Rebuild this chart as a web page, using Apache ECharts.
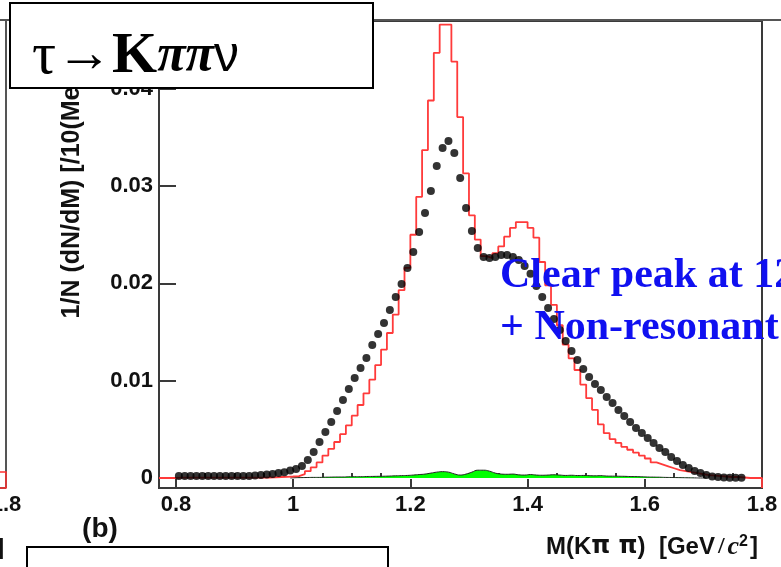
<!DOCTYPE html>
<html>
<head>
<meta charset="utf-8">
<script src="https://cdn.jsdelivr.net/npm/echarts@6.0.0/dist/echarts.min.js"></script>
<style>
  html, body { margin: 0; padding: 0; background: #fff; }
  #chart { width: 781px; height: 567px; }
</style>
</head>
<body>
<div id="chart"></div>
<script>
// M(K pi pi) in bins of 10 MeV, 0.8 .. 1.8 GeV
const massLow = 0.8;
const binWidth = 0.01;
const xMin = 0.7711;
const xMax = 1.8;
const yMin = -0.00103;
const yMax = 0.04697;

const xMajorTicks = [0.8, 1.0, 1.2, 1.4, 1.6, 1.8];
const xMinorTicks = [0.85, 0.9, 0.95, 1.05, 1.1, 1.15, 1.25, 1.3, 1.35, 1.45, 1.5, 1.55, 1.65, 1.7, 1.75];
const yTicks = [0, 0.01, 0.02, 0.03, 0.04];

// data points (black dots), bins 0..96
const dataPoints = [
    0.0002, 0.0002, 0.0002, 0.0002, 0.0002, 0.0002, 0.0002, 0.0002, 0.0002, 0.0002,
    0.0002, 0.0002, 0.0002, 0.00025, 0.0003, 0.00035, 0.0004, 0.0005, 0.0006, 0.00077,
    0.00092, 0.00123, 0.00185, 0.00267, 0.0037, 0.00473, 0.00576, 0.00689, 0.00802, 0.00915,
    0.01028, 0.0113, 0.01233, 0.01367, 0.0148, 0.01593, 0.01727, 0.0186, 0.01994, 0.02158,
    0.02323, 0.02528, 0.02724, 0.0295, 0.03207, 0.03392, 0.03464, 0.0334, 0.03083, 0.02775,
    0.02539, 0.02364, 0.02271, 0.02261, 0.02271, 0.02292, 0.02292, 0.02271, 0.0224, 0.0218,
    0.0210, 0.01973, 0.0186, 0.01747, 0.01634, 0.01521, 0.01408, 0.01305, 0.01213, 0.0112,
    0.01038, 0.00966, 0.00904, 0.00832, 0.00771, 0.00699, 0.00637, 0.00576, 0.00514, 0.00462,
    0.00411, 0.0036, 0.00308, 0.00267, 0.00216, 0.00175, 0.00134, 0.00103, 0.00072, 0.00051,
    0.00031, 0.00015, 0.0001, 0.00005, 0.00003, 0.00003, 0.00003
];

// model histogram (red), bins 0..99
const modelHist = [
    0.00003, 0.00003, 0.00003, 0.00003, 0.00003, 0.00003, 0.00003, 0.00003, 0.00003, 0.00003,
    0.00003, 0.00003, 0.00003, 0.00003, 0.00003, 0.00005, 0.00007, 0.0001, 0.00012, 0.00015,
    0.0002, 0.0004, 0.0007, 0.0011, 0.0016, 0.0023, 0.003, 0.0037, 0.0045, 0.0054,
    0.0064, 0.0075, 0.0087, 0.0101, 0.0116, 0.0132, 0.0149, 0.0168, 0.0193, 0.0216,
    0.025, 0.0289, 0.0337, 0.0388, 0.0437, 0.0466, 0.0466, 0.0428, 0.0371, 0.0313,
    0.027, 0.0245, 0.0228, 0.0226, 0.0231, 0.0238, 0.0248, 0.0257, 0.0263, 0.0263,
    0.0257, 0.0247, 0.0222, 0.0198, 0.0178, 0.0157, 0.0137, 0.0123, 0.0111, 0.0096,
    0.0082, 0.007, 0.0055, 0.0046, 0.004, 0.0036, 0.0032, 0.0029, 0.0026, 0.0023,
    0.002, 0.0016, 0.0014, 0.0012, 0.001, 0.0008, 0.0007, 0.0006, 0.0005, 0.0004,
    0.0003, 0.00025, 0.0002, 0.00015, 0.0001, 0.0001, 0.00005, 0, 0, 0
];

// background (green), bins 0..99
const bkgHist = [
    0, 0, 0, 0, 0, 0, 0, 0, 0, 0,
    0, 0, 0, 0, 0, 0, 0, 0, 0, 0,
    0.00003, 0.00004, 0.00005, 0.00006, 0.00006, 0.00008, 0.00009, 0.0001, 0.0001, 0.00012,
    0.00013, 0.00013, 0.00015, 0.00016, 0.00017, 0.00018, 0.0002, 0.00022, 0.00024, 0.00026,
    0.0003, 0.00035, 0.0004, 0.0005, 0.0006, 0.00065, 0.0006, 0.00042, 0.0003, 0.0004,
    0.0006, 0.0008, 0.0008, 0.0007, 0.0005, 0.0004, 0.00038, 0.0004, 0.00032, 0.0003,
    0.00035, 0.0003, 0.00028, 0.0003, 0.00033, 0.0003, 0.00026, 0.00028, 0.00025, 0.00026,
    0.00024, 0.00022, 0.00024, 0.0002, 0.00019, 0.00018, 0.00017, 0.00015, 0.00014, 0.00012,
    0.0001, 0.00009, 0.00008, 0.00006, 0.00005, 0.00004, 0.00003, 0.00002, 0.00001, 0,
    0, 0, 0, 0, 0, 0, 0, 0, 0, 0
];

const binCenter = k => +(massLow + binWidth * (k + 0.5)).toFixed(4);
const binEdge = k => +(massLow + binWidth * k).toFixed(4);

const dotData = dataPoints.map((v, k) => [binCenter(k), v]);

const modelStep = [[xMin, 0]];
modelHist.forEach((v, k) => modelStep.push([binEdge(k), v]));
modelStep.push([xMax, modelHist[modelHist.length - 1]]);
modelStep.push([xMax, yMin]);

const bkgData = [];
bkgHist.forEach((v, k) => {
    if (k >= 19 && k <= 90) bkgData.push([binCenter(k), v]);
});

const SANS = 'Liberation Sans, Arial, sans-serif';
const SERIF = 'Liberation Serif, Times New Roman, serif';
const FRAME = '#3a3a3a';

const chart = echarts.init(document.getElementById('chart'));

const option = {
    animation: false,
    backgroundColor: '#fff',
    grid: {
        left: 159, right: 19, top: 21, bottom: 79,
        show: true, borderColor: FRAME, borderWidth: 2, backgroundColor: 'transparent'
    },
    xAxis: [{
        type: 'value', min: xMin, max: xMax,
        axisLine: { show: true, onZero: false, lineStyle: { color: FRAME, width: 2 } },
        splitLine: { show: false },
        axisTick: { show: true, inside: true, length: 9, customValues: xMajorTicks, lineStyle: { color: FRAME, width: 2 } },
        axisLabel: {
            customValues: xMajorTicks, margin: 6,
            color: '#111', fontFamily: SANS, fontWeight: 'bold', fontSize: 22,
            formatter: v => (v === 1 ? '1' : String(+v.toFixed(1)))
        }
    }, {
        type: 'value', min: xMin, max: xMax, position: 'bottom',
        axisLine: { show: false },
        splitLine: { show: false },
        axisTick: { show: true, inside: true, length: 5, customValues: xMinorTicks, lineStyle: { color: FRAME, width: 2 } },
        axisLabel: { show: false }
    }],
    yAxis: {
        type: 'value', min: yMin, max: yMax,
        axisLine: { show: true, onZero: false, lineStyle: { color: FRAME, width: 2 } },
        splitLine: { show: false },
        axisTick: { show: true, inside: true, length: 17, customValues: yTicks, lineStyle: { color: FRAME, width: 2 } },
        axisLabel: {
            customValues: yTicks, margin: 6,
            color: '#111', fontFamily: SANS, fontWeight: 'bold', fontSize: 22,
            formatter: v => (v === 0 ? '0' : v.toFixed(2))
        }
    },
    series: [{
        name: 'background',
        type: 'line',
        data: bkgData,
        smooth: true,
        symbol: 'none',
        lineStyle: { color: '#222', width: 1 },
        areaStyle: { color: '#00ff00', opacity: 1 },
        z: 2
    }, {
        name: 'model',
        type: 'line',
        data: modelStep,
        step: 'end',
        symbol: 'none',
        lineStyle: { color: '#ff3a3a', width: 1.8 },
        z: 3
    }, {
        name: 'data',
        type: 'scatter',
        data: dotData,
        symbol: 'circle',
        symbolSize: 8,
        itemStyle: { color: '#000' },
        z: 4
    }],
    graphic: [
        // top frame line across the slide
        { type: 'line', shape: { x1: 0, y1: 20, x2: 781, y2: 20 }, style: { stroke: '#555', lineWidth: 2 }, z: 1 },
        // neighbouring panel remnants on the left
        { type: 'line', shape: { x1: 6, y1: 20, x2: 6, y2: 488 }, style: { stroke: '#555', lineWidth: 2 }, z: 1 },
        { type: 'line', shape: { x1: 0, y1: 488, x2: 6, y2: 488 }, style: { stroke: '#555', lineWidth: 2 }, z: 1 },
        { type: 'rect', shape: { x: -2, y: 472, width: 8, height: 16 }, style: { fill: 'none', stroke: '#ff3030', lineWidth: 1.5 }, z: 1 },
        { type: 'text', x: 6, y: 505, style: { text: '1.8', font: 'bold 22px ' + SANS, fill: '#111', textAlign: 'center', textVerticalAlign: 'middle' }, z: 1 },
        { type: 'text', x: 4, y: 548, style: { text: ']', font: 'bold 22px ' + SANS, fill: '#111', textAlign: 'right', textVerticalAlign: 'middle' }, z: 1 },
        // y axis title
        {
            type: 'text', x: 72, y: 24, rotation: Math.PI / 2,
            style: { text: '1/N (dN/dM) [/10(MeV/c²)]', font: 'bold 25px ' + SANS, fill: '#111', textAlign: 'right', textVerticalAlign: 'middle' },
            z: 5
        },
        // x axis title
        {
            type: 'text', x: 758, y: 547,
            style: {
                text: '{a|M(K}{p|π π}{a|)  [GeV}{b|/}{c|c}{s|2}{a|]}',
                textAlign: 'right', textVerticalAlign: 'middle',
                rich: {
                    a: { font: 'bold 24px ' + SANS, fill: '#111' },
                    b: { font: 'bold 24px ' + SERIF, fill: '#111', padding: [0, 3, 0, 3] },
                    p: { font: 'bold 24px DejaVu Sans, sans-serif', fill: '#111' },
                    c: { font: 'italic bold 26px ' + SERIF, fill: '#111' },
                    s: { font: 'bold 16px ' + SANS, fill: '#111', verticalAlign: 'top', padding: [0, 2, 0, 0] }
                }
            },
            z: 5
        },
        // panel label
        { type: 'text', x: 100, y: 529, style: { text: '(b)', font: 'bold 28px ' + SANS, fill: '#111', textAlign: 'center', textVerticalAlign: 'middle' }, z: 5 },
        // blank box at bottom
        { type: 'rect', shape: { x: 27, y: 547, width: 361, height: 40 }, style: { fill: '#fff', stroke: '#000', lineWidth: 2 }, z: 20 },
        // annotation
        {
            type: 'text', x: 500, y: 276,
            style: { text: 'Clear peak at 1270 MeV', font: 'bold 42px ' + SERIF, fill: '#1010f0', textAlign: 'left', textVerticalAlign: 'middle' },
            z: 50
        },
        {
            type: 'text', x: 500, y: 328,
            style: { text: '+ Non-resonant Kππ', font: 'bold 42px ' + SERIF, fill: '#1010f0', textAlign: 'left', textVerticalAlign: 'middle' },
            z: 50
        },
        // decay title box
        { type: 'rect', shape: { x: 10, y: 3, width: 363, height: 85 }, style: { fill: '#fff', stroke: '#000', lineWidth: 2 }, z: 100 },
        {
            type: 'text', x: 32, y: 57,
            style: {
                text: '{t|τ}{a|→}{k|K}{p|ππ}{n|ν}',
                textAlign: 'left', textVerticalAlign: 'middle',
                rich: {
                    t: { font: '60px ' + SERIF, fill: '#000' },
                    a: { font: 'bold 56px ' + SERIF, fill: '#000' },
                    k: { font: 'bold 58px ' + SERIF, fill: '#000' },
                    p: { font: 'italic bold 52px ' + SERIF, fill: '#000' },
                    n: { font: '50px ' + SANS, fill: '#000' }
                }
            },
            z: 101
        }
    ]
};

chart.setOption(option);
</script>
</body>
</html>
